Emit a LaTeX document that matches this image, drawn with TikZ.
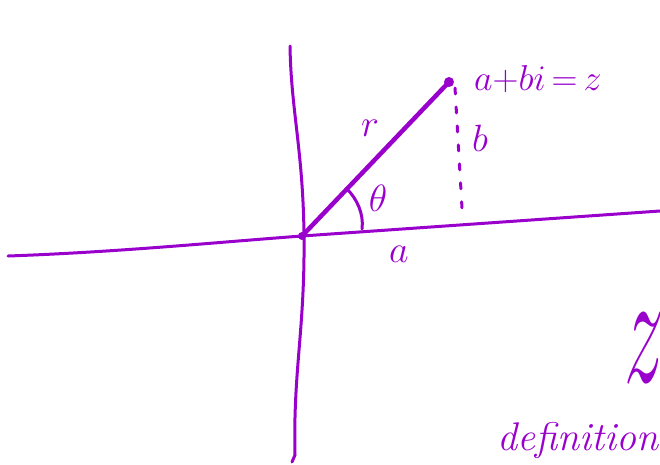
\RequirePackage{fix-cm}
\documentclass[tikz,border=0pt]{standalone}
\usepackage{graphicx}
\definecolor{ink}{RGB}{153,0,204}
\begin{document}
\begin{tikzpicture}[x=1pt,y=-1pt,
  pen/.style={draw=ink,line width=3pt,line cap=round,line join=round},
  thick pen/.style={pen,line width=4.5pt},
  lbl/.style={text=ink,inner sep=0pt,font=\fontsize{38}{40}\selectfont}]
\useasboundingbox (0,0) rectangle (660,464);
% coordinates
\coordinate (O) at (302,236);
\coordinate (P) at (449,82);
\coordinate (ytop) at (290,46);
\coordinate (ybot) at (292,462);
\coordinate (xl) at (8,256);
\coordinate (xr) at (660,211);
\coordinate (d1) at (455,88);
\coordinate (d2) at (462,208);
\coordinate (t1) at (347,189);
\coordinate (t2) at (362,229);
% axes
\draw[pen] (ytop) .. controls (291,110) and (303,150) .. (304,235)
  .. controls (305,330) and (293,370) .. (295,455) -- (ybot);
\draw[pen] (xl) .. controls (120,252) and (220,242) .. (O) -- (xr);
% vector
\draw[thick pen] (O) -- (P);
\fill[ink] (P) circle (5pt);
\fill[ink] (O) circle (4pt);
% dashed height
\draw[pen,dash pattern=on 6pt off 13pt] (d1) -- (d2);
% angle arc
\draw[pen] (t1) .. controls (357,199) and (364,214) .. (t2);
% labels
\node[lbl,font=\fontsize{36}{38}\selectfont,anchor=base west] (eq) at (474,90) {$a{+}bi{\,=\,}z$};
\node[lbl] (r) at (370,128) {$r$};
\node[lbl] (b) at (480,138) {$b$};
\node[lbl] (th) at (378,198) {$\theta$};
\node[lbl] (a) at (399,254) {$a$};
\node[lbl,font=\fontsize{50}{50}\selectfont,anchor=west] (bigz) at (624,348) {\scalebox{1.6}[3.2]{$z$}};
\node[lbl,font=\fontsize{40}{42}\selectfont\itshape,anchor=base west] (def) at (497,450) {definition};
\end{tikzpicture}
\end{document}
